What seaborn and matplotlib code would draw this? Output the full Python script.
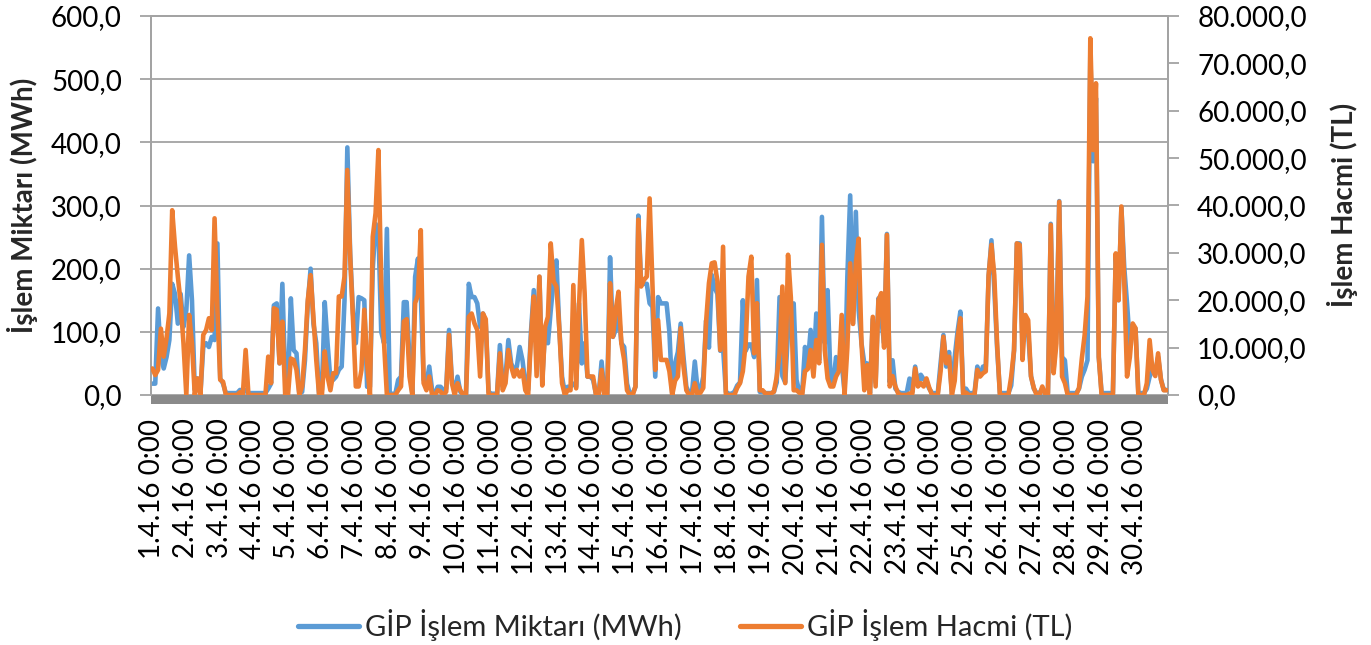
import numpy as np
import pandas as pd
import matplotlib
matplotlib.use("Agg")
import matplotlib.pyplot as plt
import seaborn as sns
from matplotlib.ticker import FuncFormatter, MultipleLocator
from matplotlib.lines import Line2D
from matplotlib.patches import Rectangle

# ---------------- data (2-hour blocks, 12 per day, 1.4.2016 - 30.4.2016) ----------------
gip_mwh = [
    18, 18, 137, 60, 42, 60, 87, 176, 160, 113, 160, 108,      # 1.4
    134, 221, 150, 8, 26, 3, 76, 82, 76, 92, 87, 240,          # 2.4
    26, 18, 3, 3, 3, 3, 3, 8, 3, 8, 3, 3,                      # 3.4
    3, 3, 3, 3, 3, 10, 18, 142, 145, 50, 176, 29,              # 4.4
    18, 153, 71, 66, 2, 5, 55, 145, 200, 113, 82, 2,           # 5.4
    8, 147, 82, 24, 24, 29, 40, 45, 150, 392, 224, 130,        # 6.4
    82, 155, 153, 150, 13, 13, 200, 271, 260, 100, 82, 263,    # 7.4
    2, 2, 2, 24, 29, 147, 147, 55, 2, 187, 216, 160,           # 8.4
    24, 18, 45, 8, 2, 13, 13, 8, 10, 103, 24, 5,               # 9.4
    29, 5, 2, 2, 176, 155, 155, 145, 108, 129, 113, 5,         # 10.4
    2, 2, 2, 79, 13, 29, 87, 50, 40, 45, 76, 55,               # 11.4
    18, 8, 100, 166, 60, 187, 24, 103, 82, 134, 180, 213,      # 12.4
    108, 29, 3, 13, 13, 18, 13, 145, 50, 82, 29, 29,           # 13.4
    24, 2, 2, 53, 2, 2, 218, 92, 103, 134, 82, 76,             # 14.4
    18, 2, 2, 13, 284, 176, 176, 176, 145, 140, 29, 155,       # 15.4
    145, 145, 145, 100, 3, 50, 68, 113, 60, 13, 3, 3,          # 16.4
    53, 8, 8, 29, 118, 75, 190, 170, 160, 70, 75, 5,           # 17.4
    2, 2, 5, 15, 20, 150, 70, 80, 80, 60, 182, 5,              # 18.4
    5, 3, 3, 3, 5, 20, 155, 30, 20, 100, 140, 145,             # 19.4
    24, 5, 3, 76, 50, 103, 40, 129, 55, 282, 82, 166,          # 20.4
    30, 20, 60, 40, 50, 5, 187, 316, 113, 290, 134, 82,        # 21.4
    50, 50, 3, 120, 20, 153, 120, 82, 255, 20, 55, 10,         # 22.4
    5, 3, 3, 3, 26, 5, 45, 15, 32, 25, 20, 10,                 # 23.4
    3, 3, 3, 50, 95, 45, 68, 3, 60, 100, 132, 3,               # 24.4
    10, 3, 3, 3, 45, 30, 45, 45, 187, 245, 170, 75,            # 25.4
    3, 3, 3, 3, 15, 70, 240, 240, 82, 103, 100, 30,            # 26.4
    10, 3, 3, 10, 3, 3, 271, 40, 100, 307, 60, 55,             # 27.4
    3, 3, 3, 3, 10, 29, 40, 55, 540, 370, 470, 60,             # 28.4
    3, 3, 3, 3, 3, 220, 150, 297, 203, 145, 80, 110,           # 29.4
    105, 3, 3, 3, 10, 29, 40, 35, 60, 25, 8, 8,                # 30.4
]

gip_tl = [
    5600, 4200, 5300, 14000, 8100, 12000, 17200, 39000, 31300, 25000, 19400, 10900,   # 1.4
    0, 16900, 10900, 0, 3500, 0, 12700, 13700, 16200, 13700, 37300, 18000,           # 2.4
    3200, 2800, 0, 0, 0, 0, 0, 600, 0, 9500, 0, 0,                                   # 3.4
    0, 0, 0, 0, 0, 8100, 2500, 18300, 18000, 6700, 15500, 0,                         # 4.4
    0, 7700, 7400, 5300, 0, 1800, 9500, 20000, 25300, 16500, 7400, 0,                # 5.4
    0, 9200, 3900, 1000, 4600, 4600, 20800, 20800, 25000, 47500, 29200, 16000,       # 6.4
    1800, 1800, 5300, 18000, 6700, 0, 33400, 38400, 51700, 23200, 10900, 0,          # 7.4
    0, 0, 0, 1000, 1800, 15500, 16000, 3900, 0, 19400, 21100, 34800,                 # 8.4
    2500, 1000, 3900, 0, 0, 1000, 700, 0, 700, 12700, 2500, 0,                       # 9.4
    2500, 1000, 0, 0, 16500, 17200, 15100, 13700, 3900, 17200, 16000, 0,             # 10.4
    0, 0, 0, 8800, 1000, 2500, 9500, 6000, 3900, 5300, 3900, 5300,                   # 11.4
    1000, 0, 12000, 20800, 4000, 25000, 2000, 14400, 16500, 32000, 24000, 22900,     # 12.4
    14400, 2500, 0, 1000, 1000, 23200, 1400, 18700, 32700, 21500, 3900, 3900,        # 13.4
    3900, 0, 0, 5300, 0, 0, 23600, 12300, 18000, 21800, 10900, 7400,                 # 14.4
    1000, 0, 0, 1800, 37000, 22900, 24300, 25000, 41500, 23600, 5300, 15800,         # 15.4
    7400, 7400, 7400, 5000, 0, 3000, 3900, 14100, 6000, 1000, 0, 0,                  # 16.4
    2500, 0, 500, 1500, 15500, 23600, 27800, 28000, 24000, 9500, 31300, 0,           # 17.4
    0, 0, 0, 1500, 2500, 5000, 10900, 25000, 29200, 8800, 19400, 1000,               # 18.4
    1000, 300, 300, 300, 700, 3900, 8800, 22900, 2500, 29600, 20500, 1000,           # 19.4
    1000, 500, 0, 5000, 5500, 9500, 3900, 11600, 6700, 31700, 9500, 3500,            # 20.4
    1800, 1800, 3900, 5000, 16900, 0, 10000, 27800, 15000, 27800, 33000, 10900,      # 21.4
    1000, 6300, 0, 16500, 1800, 20000, 21500, 10000, 33800, 1800, 4000, 1800,        # 22.4
    300, 0, 0, 0, 300, 300, 5600, 1800, 2500, 1800, 3500, 1500,                      # 23.4
    0, 0, 0, 5000, 12300, 6700, 8100, 0, 3000, 12000, 16200, 0,                      # 24.4
    500, 0, 0, 0, 5300, 3900, 4600, 5000, 25300, 31700, 25300, 10900,                # 25.4
    0, 0, 0, 0, 3900, 9500, 32000, 31700, 7400, 16900, 15800, 3900,                  # 26.4
    1500, 0, 0, 1800, 300, 0, 35900, 4600, 10900, 40800, 3900, 2500,                 # 27.4
    0, 0, 0, 0, 1500, 7700, 12700, 20800, 75300, 51700, 65800, 8000,                 # 28.4
    0, 0, 0, 0, 0, 29900, 20000, 39800, 24000, 3900, 8000, 15100,                    # 29.4
    14100, 0, 0, 0, 2500, 11600, 5300, 4000, 8800, 3200, 1000, 1000,                 # 30.4
]

day_labels = [f"{d}.4.16 0:00" for d in range(1, 31)]
series_names = ["GİP İşlem Miktarı (MWh)", "GİP İşlem Hacmi (TL)"]
left_title = "İşlem Miktarı (MWh)"
right_title = "İşlem Hacmi (TL)"

# ---------------- styling ----------------
BLUE = "#5B9BD5"
ORANGE = "#ED7D31"
GRID = "#A3A3A3"
BAND = "#8A8A8A"

sns.set_style("white")
plt.rcParams["font.family"] = ["Lato", "DejaVu Sans"]

W, H = 1371, 645
fig = plt.figure(figsize=(W / 100, H / 100), dpi=100)
L, R, T, B = 151, 1168, 16, 395
ax = fig.add_axes([L / W, 1 - B / H, (R - L) / W, (B - T) / H])
ax2 = ax.twinx()

hours = np.arange(len(gip_mwh)) * 2 + 0.5
df = pd.DataFrame({"hour": hours, "mwh": gip_mwh, "tl": gip_tl})

sns.lineplot(data=df, x="hour", y="mwh", ax=ax, color=BLUE, linewidth=3.3, zorder=3)
sns.lineplot(data=df, x="hour", y="tl", ax=ax2, color=ORANGE, linewidth=3.3, zorder=3)

ax.set_xlim(-0.5, 719.5)
ax.set_ylim(0, 600)
ax2.set_ylim(0, 80000)
ax.yaxis.set_major_locator(MultipleLocator(100))
ax2.yaxis.set_major_locator(MultipleLocator(10000))


def fmt_left(v, pos):
    return f"{v:.1f}".replace(".", ",")


def fmt_right(v, pos):
    s = f"{v:,.1f}"
    return s.replace(",", "X").replace(".", ",").replace("X", ".")


ax.yaxis.set_major_formatter(FuncFormatter(fmt_left))
ax2.yaxis.set_major_formatter(FuncFormatter(fmt_right))

ax.set_xticks(np.arange(30) * 24)
ax.set_xticklabels(day_labels, rotation=90, ha="center", va="top")

ax.grid(axis="y", color=GRID, linewidth=1.3)
ax.grid(axis="x", visible=False)
ax.set_axisbelow(True)

for a in (ax, ax2):
    a.spines["bottom"].set_visible(False)
    for s in ("left", "right", "top"):
        a.spines[s].set_color(GRID)
        a.spines[s].set_linewidth(1.3)
    a.set_xlabel("")
    a.set_ylabel("")

ax.tick_params(axis="y", direction="out", length=8, width=1.3, color=GRID,
               pad=13, labelsize=20, labelcolor="black")
ax2.tick_params(axis="y", direction="out", length=8, width=1.3, color=GRID,
                pad=13, labelsize=20, labelcolor="black")
ax.tick_params(axis="x", length=0, pad=17, labelsize=20, labelcolor="black")

# grey category-axis band below zero
ax.add_patch(Rectangle((0, -9 / (B - T)), 1, 9 / (B - T), transform=ax.transAxes,
                       facecolor=BAND, edgecolor="none", clip_on=False, zorder=1))

fig.text(22 / W, 1 - 205 / H, left_title, rotation=90, ha="center", va="center",
         fontsize=20, fontweight="bold")
fig.text(1342 / W, 1 - 205 / H, right_title, rotation=90, ha="center", va="center",
         fontsize=20, fontweight="bold")

handles = [Line2D([], [], color=BLUE, linewidth=3.8),
           Line2D([], [], color=ORANGE, linewidth=3.8)]
fig.legend(handles, series_names, loc="center", bbox_to_anchor=(685 / W, 1 - 625 / H),
           ncol=2, frameon=False, fontsize=21, handlelength=2.1, handletextpad=0.2,
           columnspacing=2.0)

fig.savefig("out.png", dpi=100)
